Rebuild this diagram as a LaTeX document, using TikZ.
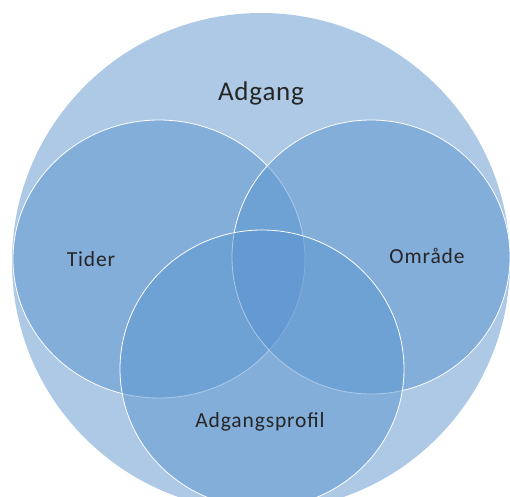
\documentclass[tikz,border=0pt]{standalone}
\usepackage{fontspec}
\setmainfont{Carlito}
\usetikzlibrary{shapes.geometric}

\definecolor{outerblue}{HTML}{ADC9E6}
\definecolor{setblue}{HTML}{5B95D0}

\begin{document}
\begin{tikzpicture}[
                x = 1pt, y = -1pt, % pixel-like units, y downwards
                inner sep = 0pt
            ]

            \tikzstyle{set}=[ellipse, draw = white, line width = 0.8pt,
            fill = setblue, fill opacity = 0.5]
            \tikzstyle{setlabel}=[text = black!85,
            font = \fontsize{21.5}{24}\selectfont\addfontfeature{LetterSpace=4}]

            \useasboundingbox (0,0) rectangle (510,496);

            \node (adgang) [circle, fill = outerblue, minimum size = 498pt] at (261,262) {};
            \node (tider) [set, minimum width = 292pt, minimum height = 278pt] at (159,259) {};
            \node (omraade) [set, minimum width = 278pt, minimum height = 274pt] at (371,257) {};
            \node (profil) [set, minimum width = 284pt, minimum height = 278pt] at (262,369) {};

            \node (adganglabel) [setlabel,
            font = \fontsize{27}{30}\selectfont\addfontfeature{LetterSpace=3}] at (261,93) {Adgang};
            \node (tiderlabel) [setlabel] at (91,259) {Tider};
            \node (omraadelabel) [setlabel] at (427,256) {Område};
            \node (profillabel) [setlabel] at (260,422) {Adgangsprofil};

        \end{tikzpicture}
\end{document}
